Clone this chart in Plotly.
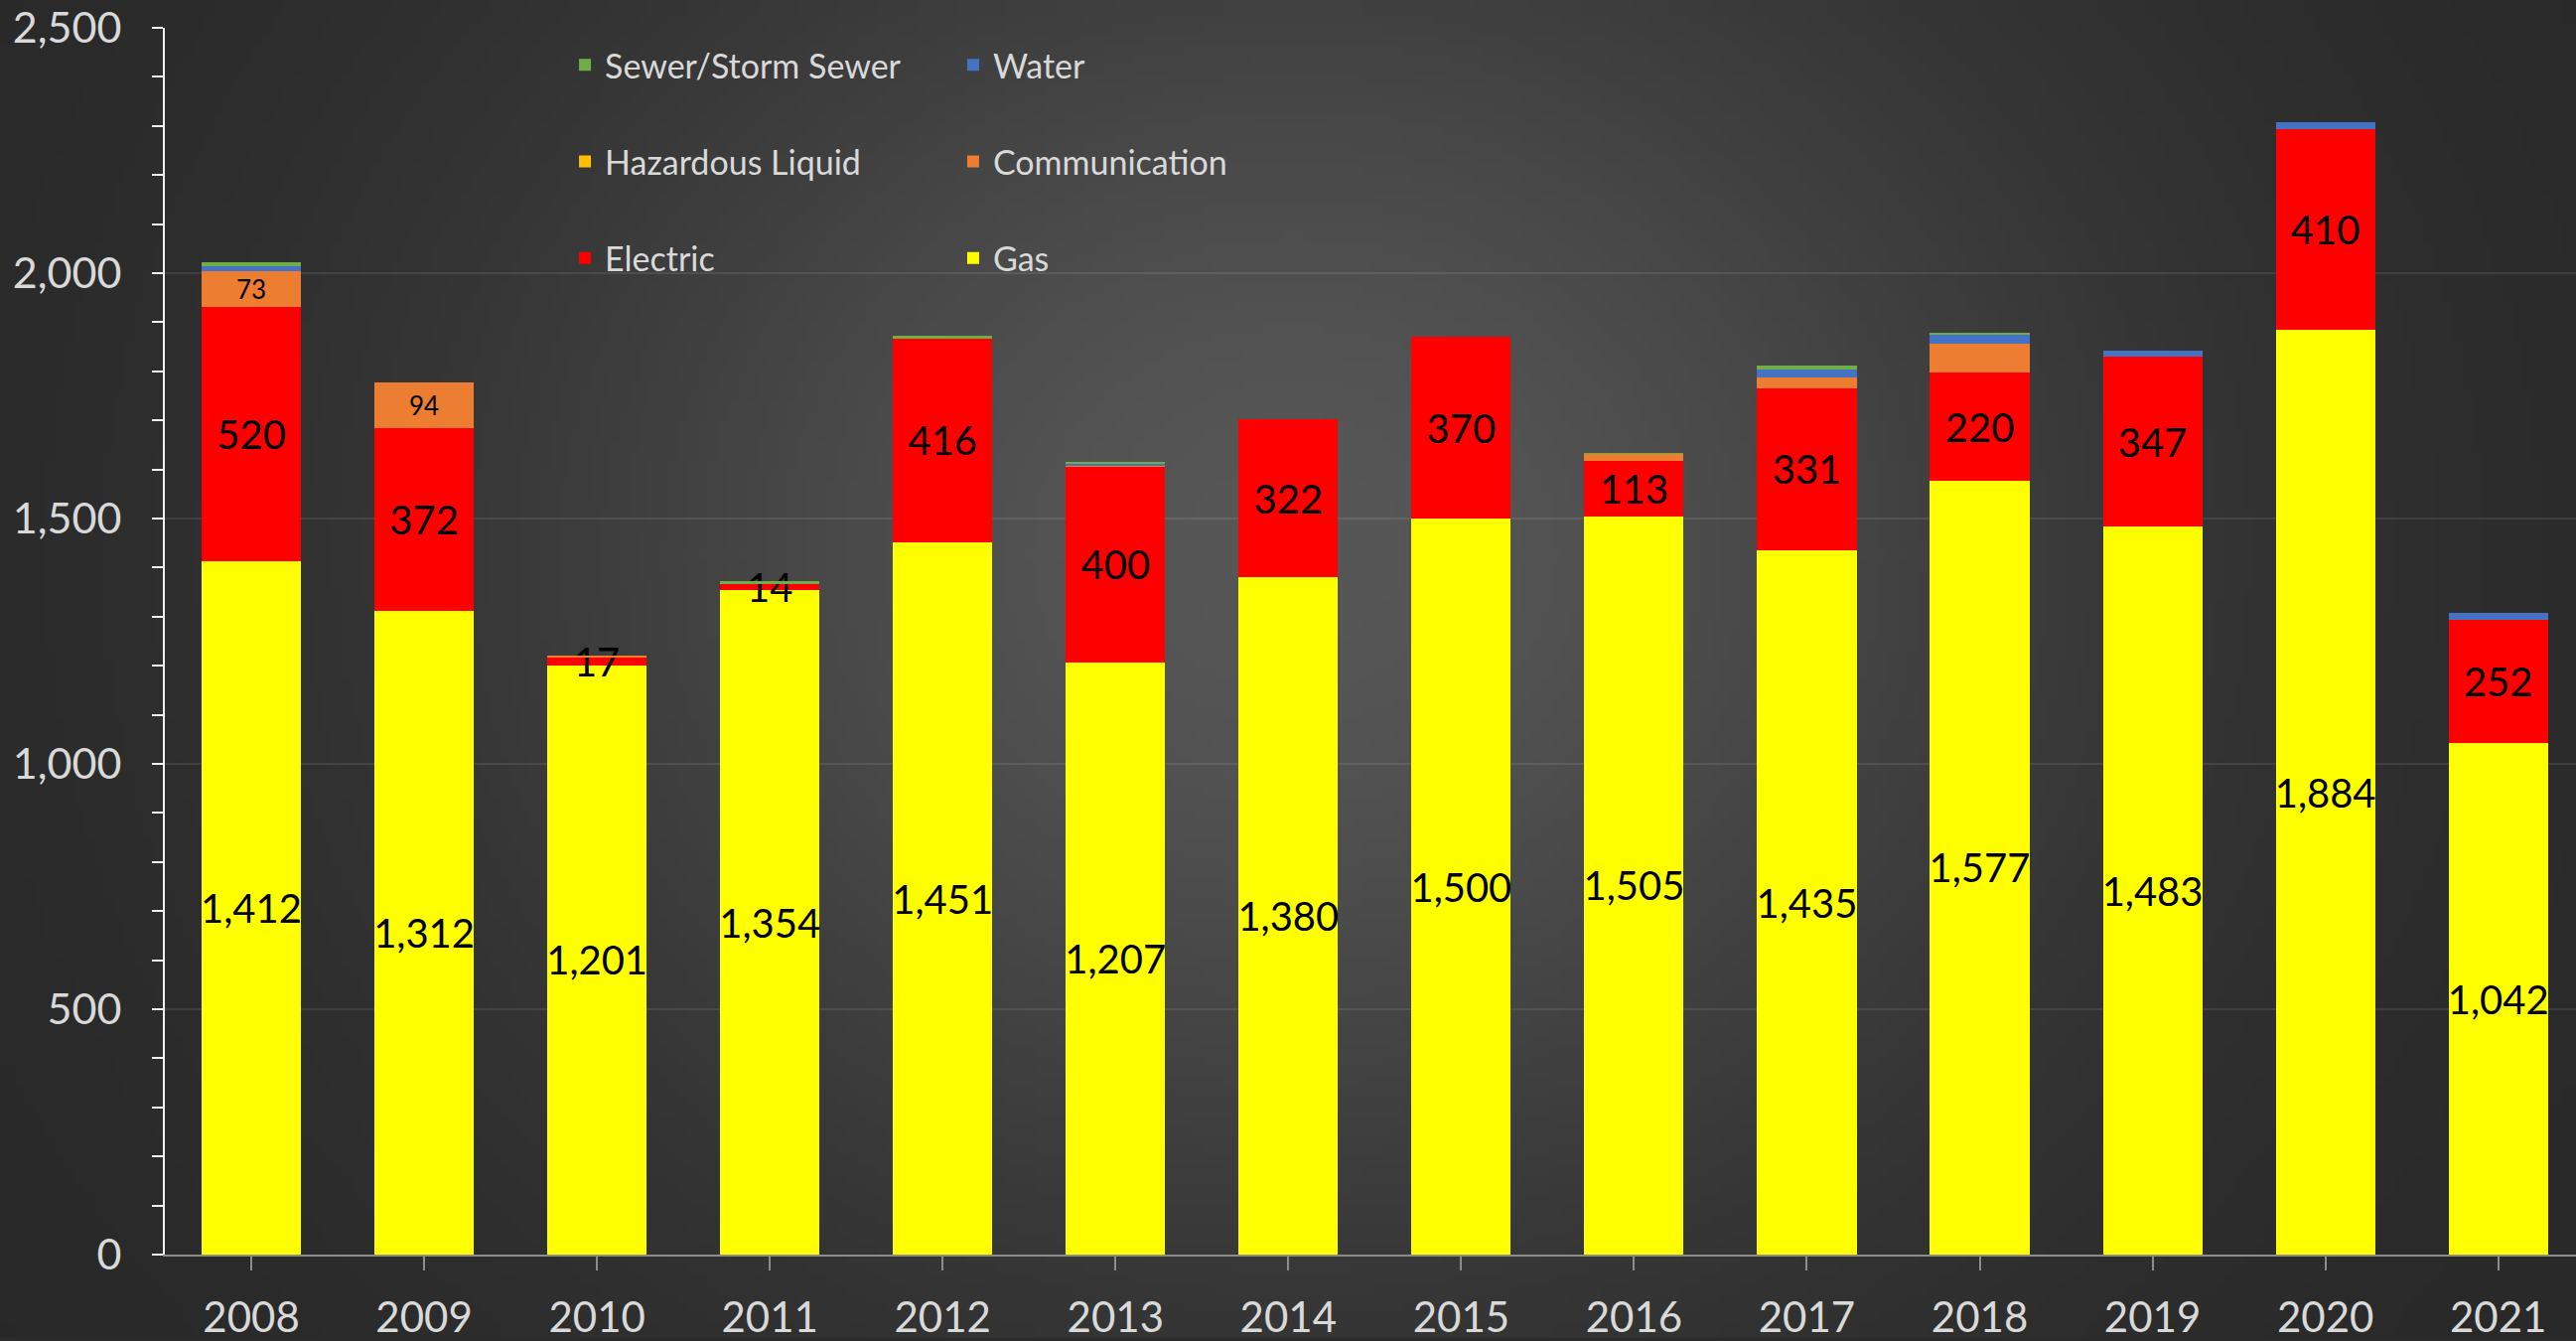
import base64
import math
import struct
import zlib

import plotly.graph_objects as go

# DATA ---------------------------------------------------------------
years = ['2008', '2009', '2010', '2011', '2012', '2013', '2014',
         '2015', '2016', '2017', '2018', '2019', '2020', '2021']
gas = [1412, 1312, 1201, 1354, 1451, 1207, 1380, 1500, 1505, 1435, 1577, 1483, 1884, 1042]
electric = [520, 372, 17, 14, 416, 400, 322, 370, 113, 331, 220, 347, 410, 252]
communication = [73, 94, 3, 0, 0, 1, 0, 0, 14, 22, 59, 0, 0, 0]
hazardous = [0, 0, 0, 0, 0, 1, 0, 0, 0, 0, 0, 0, 0, 0]
water = [9, 0, 0, 0, 0, 3, 0, 0, 0, 15, 19, 12, 14, 13]
sewer = [9, 0, 0, 4, 5, 4, 0, 0, 1, 9, 2, 0, 0, 0]
comm_labelled = ['2008', '2009']  # only these communication values carry a label

W, H = 2594, 1350
ML, MR, MT, MB = 166, 0, 28, 84
FONT = 'Lato, Calibri, sans-serif'


def gradient_png(w, h):
    # soft radial gradient for the chart background
    cx, cy, a, b = 0.50 * w, 0.41 * h, 0.31 * w, 0.52 * h
    rows = b''
    for j in range(h):
        row = bytearray([0])
        for i in range(w):
            r2 = ((i - cx) / a) ** 2 + ((j - cy) / b) ** 2
            row.append(int(40 + 47 * math.exp(-r2)))
        rows += bytes(row)

    def chunk(tag, data):
        c = struct.pack('>I', len(data)) + tag + data
        return c + struct.pack('>I', zlib.crc32(tag + data) & 0xffffffff)

    png = b'\x89PNG\r\n\x1a\n'
    png += chunk(b'IHDR', struct.pack('>IIBBBBB', w, h, 8, 0, 0, 0, 0))
    png += chunk(b'IDAT', zlib.compress(rows, 9))
    png += chunk(b'IEND', b'')
    return 'data:image/png;base64,' + base64.b64encode(png).decode()


def labels(vals):
    return [f'{v:,}' if v else '' for v in vals]


fig = go.Figure()

# stacked bottom -> top; last two fields: which legend column, rank in it
series = [
    ('Gas', gas, '#FFFF00', labels(gas), 40, 'legend2', 3),
    ('Electric', electric, '#FF0000', labels(electric), 40, 'legend', 3),
    ('Communication', communication, '#ED7D31',
     [f'{v:,}' if y in comm_labelled else '' for y, v in zip(years, communication)], 26, 'legend2', 2),
    ('Hazardous Liquid', hazardous, '#FFC000', ['' for _ in hazardous], 26, 'legend', 2),
    ('Water', water, '#4472C4', ['' for _ in water], 26, 'legend2', 1),
    ('Sewer/Storm Sewer', sewer, '#70AD47', ['' for _ in sewer], 26, 'legend', 1),
]

for name, vals, color, txt, tsize, leg, rank in series:
    fig.add_trace(go.Bar(
        name=name, x=years, y=vals,
        marker=dict(color=color, line=dict(width=0)),
        text=txt, textposition='inside', insidetextanchor='middle',
        textangle=0, constraintext='none', cliponaxis=False,
        textfont=dict(color='black', size=tsize, family=FONT),
        legend=leg, legendgroup=name, legendrank=rank,
    ))

legend_style = dict(
    font=dict(color='#d9d9d9', size=34, family=FONT),
    bgcolor='rgba(0,0,0,0)', traceorder='grouped',
    tracegroupgap=50, orientation='v', yanchor='top', xanchor='left',
    itemclick=False,
)

fig.update_layout(
    width=W, height=H,
    margin=dict(l=ML, r=MR, t=MT, b=MB),
    paper_bgcolor='#2b2b2b',
    plot_bgcolor='rgba(0,0,0,0)',
    barmode='stack', bargap=0.425,
    font=dict(family=FONT, color='#d9d9d9'),
    showlegend=True,
    legend=dict(x=0.166, y=0.993, **legend_style),
    legend2=dict(x=0.327, y=0.993, **legend_style),
    images=[dict(
        source=gradient_png(260, 135), xref='paper', yref='paper',
        x=-ML / (W - ML - MR), y=1 + MT / (H - MT - MB),
        sizex=W / (W - ML - MR), sizey=H / (H - MT - MB),
        xanchor='left', yanchor='top', sizing='stretch', layer='below',
    )],
)

fig.update_yaxes(
    range=[0, 2500], dtick=500, tickformat=',',
    showgrid=True, gridcolor='rgba(255,255,255,0.09)', gridwidth=2,
    zeroline=False,
    showline=True, linecolor='#f2f2f2', linewidth=2,
    ticks='outside', ticklen=11, tickwidth=2, tickcolor='#f2f2f2',
    minor=dict(dtick=100, ticks='outside', ticklen=11, tickwidth=2,
               tickcolor='#f2f2f2', showgrid=False),
    tickfont=dict(size=43, color='#d9d9d9', family=FONT),
    ticklabelstandoff=22,
)
fig.update_xaxes(
    type='category', range=[-0.5, 13.45],
    showgrid=False, zeroline=False,
    showline=True, linecolor='#8c8c8c', linewidth=2,
    ticks='outside', ticklen=14, tickwidth=2, tickcolor='#8c8c8c',
    tickfont=dict(size=42, color='#d9d9d9', family=FONT),
    ticklabelstandoff=12,
)

fig.write_html('out.html', config={'displayModeBar': False},
               post_script="document.body.style.margin='0';")
